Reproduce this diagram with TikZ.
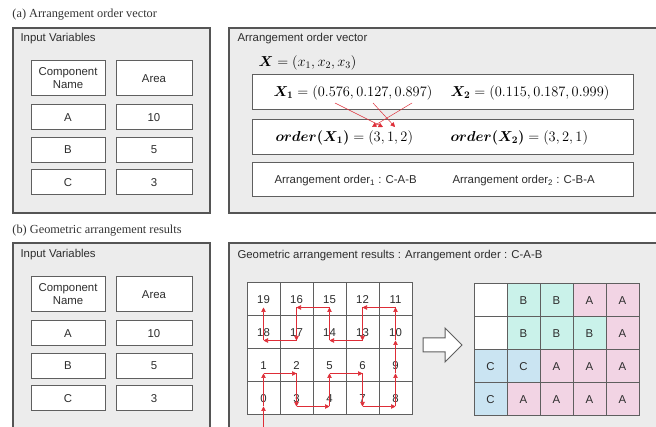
\documentclass[tikz,border=0pt]{standalone}
\usepackage{amsmath}
\usepackage{fontspec}
\setmainfont{Liberation Serif}
\setsansfont{Liberation Sans}
\usetikzlibrary{positioning}
\usetikzlibrary{arrows.meta}

\definecolor{panelbg}{RGB}{236,236,236}
\definecolor{panelline}{RGB}{85,85,85}
\definecolor{boxline}{RGB}{95,95,95}
\definecolor{txt}{RGB}{45,45,45}
\definecolor{walkred}{RGB}{222,45,55}
\definecolor{fillA}{RGB}{242,212,228}
\definecolor{fillB}{RGB}{202,242,234}
\definecolor{fillC}{RGB}{202,228,242}

\begin{document}
\begin{tikzpicture}
		[x=1pt, y=-1pt, node distance=33pt, line width=1pt,
		panel/.style = {draw=panelline, fill=panelbg, line width=1.1pt},
		caption/.style = {anchor=west, inner sep=0pt, font=\fontsize{12.3}{14}\selectfont, text=black!80},
		title/.style = {anchor=west, inner sep=0pt, font=\sffamily\fontsize{11.4}{13}\selectfont, text=txt},
		formula/.style = {anchor=west, inner sep=0pt, font=\fontsize{14}{16}\selectfont},
		tbox/.style = {draw=boxline, fill=white, line width=1pt, inner sep=0pt, align=center, font=\sffamily\fontsize{11.4}{13}\selectfont, text=txt},
		head/.style = {tbox, minimum width=74pt, minimum height=35pt},
		row/.style = {tbox, minimum width=74pt, minimum height=25pt},
		cell/.style = {tbox, minimum size=33pt},
		walk/.style = {draw=walkred, line width=0.7pt, -{Triangle[length=4.5pt,width=4.5pt]}}]
	\useasboundingbox (0,0) rectangle (656,427);
	\clip (0,0) rectangle (656,427);
	% panels
	\node[caption] (capa) at (12,15) {(a) Arrangement order vector};
	\node[caption] (capb) at (12,231) {(b) Geometric arrangement results};
	\draw[panel] (13,28) rectangle (210,213);
	\draw[panel] (229,28) rectangle (662,213);
	\draw[panel] (13,243) rectangle (210,434);
	\draw[panel] (229,243) rectangle (662,434);
	\node[title] (in1) at (20,39) {Input Variables};
	\node[title] (aov) at (237,39) {Arrangement order vector};
	\node[title] (in2) at (20,255) {Input Variables};
	\node[title] (gar) at (237,256) {Geometric arrangement results : Arrangement order : C-A-B};
	% input variables (a)
	\node[head] (name1) at (68,78.5) {Component\\Name};
	\node[head, minimum width=76pt] (area1) [right of = name1, node distance=86pt] {Area};
	\node[row] (A1) [below of = name1, node distance=39pt] {A};
	\node[row, minimum width=76pt] (vA1) [right of = A1, node distance=86pt] {10};
	\node[row] (B1) [below of = A1, node distance=32.5pt] {B};
	\node[row, minimum width=76pt] (vB1) [right of = B1, node distance=86pt] {5};
	\node[row] (C1) [below of = B1, node distance=32.5pt] {C};
	\node[row, minimum width=76pt] (vC1) [right of = C1, node distance=86pt] {3};
	% input variables (b)
	\node[head] (name2) at (68,294.5) {Component\\Name};
	\node[head, minimum width=76pt] (area2) [right of = name2, node distance=86pt] {Area};
	\node[row] (A2) [below of = name2, node distance=39pt] {A};
	\node[row, minimum width=76pt] (vA2) [right of = A2, node distance=86pt] {10};
	\node[row] (B2) [below of = A2, node distance=32.5pt] {B};
	\node[row, minimum width=76pt] (vB2) [right of = B2, node distance=86pt] {5};
	\node[row] (C2) [below of = B2, node distance=32.5pt] {C};
	\node[row, minimum width=76pt] (vC2) [right of = C2, node distance=86pt] {3};
	% arrangement order vector
	\node[formula] (X) at (258,63) {$\boldsymbol{X} = (x_1, x_2, x_3)$};
	\node[tbox, minimum width=381pt, minimum height=35pt] (vec) at (442.5,92.5) {};
	\node[tbox, minimum width=381pt, minimum height=35pt] (ord) at (442.5,137.5) {};
	\node[tbox, minimum width=381pt, minimum height=34pt] (arr) at (442.5,180) {};
	\node[formula] (X1) at (273,93) {$\boldsymbol{X_1} = (0.576, 0.127, 0.897)$};
	\node[formula] (X2) at (450,93) {$\boldsymbol{X_2} = (0.115, 0.187, 0.999)$};
	\node[formula] (oX1) at (275,138) {$\boldsymbol{order(X_1)} = (3, 1, 2)$};
	\node[formula] (oX2) at (450,138) {$\boldsymbol{order(X_2)} = (3, 2, 1)$};
	\node[title] (ao1) at (274,181) {Arrangement order\textsubscript{1} : C-A-B};
	\node[title] (ao2) at (452,181) {Arrangement order\textsubscript{2} : C-B-A};
	\coordinate (d1) at (335,103);
	\coordinate (d2) at (373,103);
	\coordinate (d3) at (412,103);
	\coordinate (o1) at (372,127);
	\coordinate (o2) at (383,127);
	\coordinate (o3) at (395,127);
	\draw[walk, line width=0.5pt] (d1) -- (o2);
	\draw[walk, line width=0.5pt] (d2) -- (o3);
	\draw[walk, line width=0.5pt] (d3) -- (o1);
	% numbered grid
	\node[cell] (19) at (263.5,299.5) {19};
	\node[cell] (16) [right of = 19] {16};
	\node[cell] (15) [right of = 16] {15};
	\node[cell] (12) [right of = 15] {12};
	\node[cell] (11) [right of = 12] {11};
	\node[cell] (18) [below of = 19] {18};
	\node[cell] (17) [right of = 18] {17};
	\node[cell] (14) [right of = 17] {14};
	\node[cell] (13) [right of = 14] {13};
	\node[cell] (10) [right of = 13] {10};
	\node[cell] (1) [below of = 18] {1};
	\node[cell] (2) [right of = 1] {2};
	\node[cell] (5) [right of = 2] {5};
	\node[cell] (6) [right of = 5] {6};
	\node[cell] (9) [right of = 6] {9};
	\node[cell] (0) [below of = 1] {0};
	\node[cell] (3) [right of = 0] {3};
	\node[cell] (4) [right of = 3] {4};
	\node[cell] (7) [right of = 4] {7};
	\node[cell] (8) [right of = 7] {8};
	\coordinate (start) at (263.5,430);
	\draw[walk] (start) -- ([yshift=-8pt]0.center);
	\draw[walk] ([yshift=-8pt]0.center) -- ([yshift=-8pt]1.center);
	\draw[walk] ([yshift=-8pt]1.center) -- ([yshift=-8pt]2.center);
	\draw[walk] ([yshift=-8pt]2.center) -- ([yshift=-8pt]3.center);
	\draw[walk] ([yshift=-8pt]3.center) -- ([yshift=-8pt]4.center);
	\draw[walk] ([yshift=-8pt]4.center) -- ([yshift=-8pt]5.center);
	\draw[walk] ([yshift=-8pt]5.center) -- ([yshift=-8pt]6.center);
	\draw[walk] ([yshift=-8pt]6.center) -- ([yshift=-8pt]7.center);
	\draw[walk] ([yshift=-8pt]7.center) -- ([yshift=-8pt]8.center);
	\draw[walk] ([yshift=-8pt]8.center) -- ([yshift=-8pt]9.center);
	\draw[walk] ([yshift=-8pt]9.center) -- ([yshift=-8pt]10.center);
	\draw[walk] ([yshift=-8pt]10.center) -- ([yshift=-8pt]11.center);
	\draw[walk] ([yshift=-8pt]11.center) -- ([yshift=-8pt]12.center);
	\draw[walk] ([yshift=-8pt]12.center) -- ([yshift=-8pt]13.center);
	\draw[walk] ([yshift=-8pt]13.center) -- ([yshift=-8pt]14.center);
	\draw[walk] ([yshift=-8pt]14.center) -- ([yshift=-8pt]15.center);
	\draw[walk] ([yshift=-8pt]15.center) -- ([yshift=-8pt]16.center);
	\draw[walk] ([yshift=-8pt]16.center) -- ([yshift=-8pt]17.center);
	\draw[walk] ([yshift=-8pt]17.center) -- ([yshift=-8pt]18.center);
	\draw[walk] ([yshift=-8pt]18.center) -- ([yshift=-8pt]19.center);
	% block arrow
	\draw[draw=boxline, fill=white, line width=1pt] (423,338) -- (445,338) -- (445,328) -- (462,345)
		-- (445,362) -- (445,352) -- (423,352) -- cycle;
	% result grid
	\node[cell] (r19) at (490.5,300.5) {};
	\node[cell, fill=fillB] (r16) [right of = r19] {B};
	\node[cell, fill=fillB] (r15) [right of = r16] {B};
	\node[cell, fill=fillA] (r12) [right of = r15] {A};
	\node[cell, fill=fillA] (r11) [right of = r12] {A};
	\node[cell] (r18) [below of = r19] {};
	\node[cell, fill=fillB] (r17) [right of = r18] {B};
	\node[cell, fill=fillB] (r14) [right of = r17] {B};
	\node[cell, fill=fillB] (r13) [right of = r14] {B};
	\node[cell, fill=fillA] (r10) [right of = r13] {A};
	\node[cell, fill=fillC] (r1) [below of = r18] {C};
	\node[cell, fill=fillC] (r2) [right of = r1] {C};
	\node[cell, fill=fillA] (r5) [right of = r2] {A};
	\node[cell, fill=fillA] (r6) [right of = r5] {A};
	\node[cell, fill=fillA] (r9) [right of = r6] {A};
	\node[cell, fill=fillC] (r0) [below of = r1] {C};
	\node[cell, fill=fillA] (r3) [right of = r0] {A};
	\node[cell, fill=fillA] (r4) [right of = r3] {A};
	\node[cell, fill=fillA] (r7) [right of = r4] {A};
	\node[cell, fill=fillA] (r8) [right of = r7] {A};
\end{tikzpicture}
\end{document}
